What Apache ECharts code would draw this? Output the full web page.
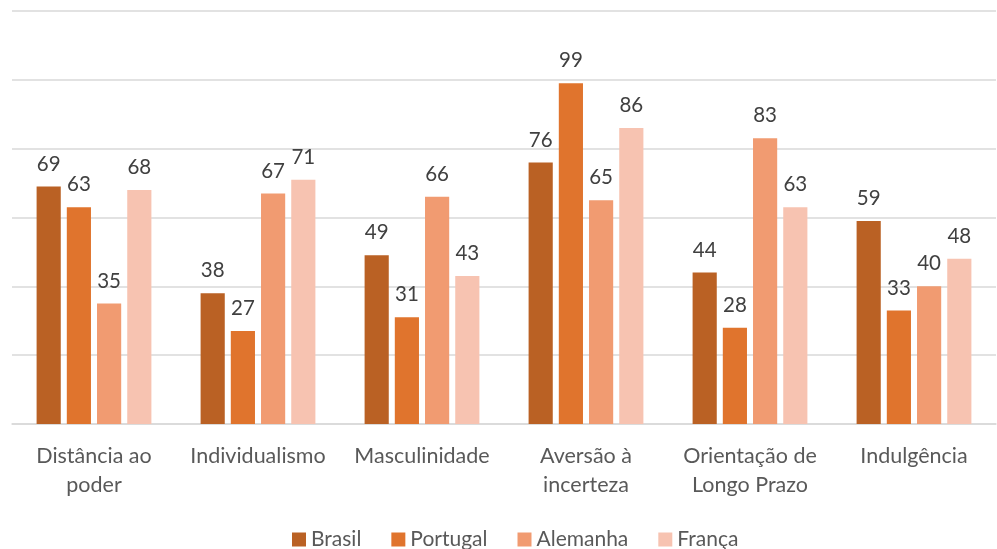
<!DOCTYPE html>
<html>
<head>
<meta charset="utf-8">
<script src="https://cdn.jsdelivr.net/npm/echarts@6/dist/echarts.min.js"></script>
<style>
  html, body { margin: 0; padding: 0; background: #fff; }
  #chart { width: 997px; height: 549px; }
</style>
</head>
<body>
<div id="chart"></div>
<script>
var categories = ['Distância ao\npoder', 'Individualismo', 'Masculinidade', 'Aversão à\nincerteza', 'Orientação de\nLongo Prazo', 'Indulgência']
var brasil = [69, 38, 49, 76, 44, 59]
var portugal = [63, 27, 31, 99, 28, 33]
var alemanha = [35, 67, 66, 65, 83, 40]
var franca = [68, 71, 43, 86, 63, 48]

var seriesNames = ['Brasil', 'Portugal', 'Alemanha', 'França']
var seriesData = [brasil, portugal, alemanha, franca]
var colors = ['#BA6124', '#E0742D', '#F19B71', '#F7C3B1']

var font = 'Lato, "Open Sans", sans-serif'

var chart = echarts.init(document.getElementById('chart'))
chart.setOption({
  animation: false,
  color: colors,
  textStyle: { fontFamily: font },
  grid: { left: 12, right: 1, top: 11, bottom: 125 },
  legend: {
    top: 524,
    left: 287,
    itemWidth: 14,
    itemHeight: 14,
    itemGap: 30,
    icon: 'rect',
    textStyle: { fontSize: 21, color: '#595959', fontFamily: font }
  },
  xAxis: {
    type: 'category',
    data: categories,
    axisLine: { lineStyle: { color: '#d9d9d9', width: 1.5 } },
    axisTick: { show: false },
    axisLabel: {
      interval: 0,
      fontSize: 21.5,
      color: '#595959',
      lineHeight: 29,
      margin: 18,
      fontFamily: font
    }
  },
  yAxis: {
    type: 'value',
    min: 0,
    max: 120,
    interval: 20,
    axisLabel: { show: false },
    axisLine: { show: false },
    axisTick: { show: false },
    splitLine: { lineStyle: { color: '#d9d9d9', width: 1.5 } }
  },
  series: seriesNames.map(function (name, i) {
    return {
      name: name,
      type: 'bar',
      data: seriesData[i],
      barGap: '25%',
      barCategoryGap: '30%',
      label: {
        show: true,
        position: 'top',
        distance: 12,
        fontSize: 20.5,
        color: '#404040',
        fontFamily: font
      }
    }
  })
})
</script>
</body>
</html>
